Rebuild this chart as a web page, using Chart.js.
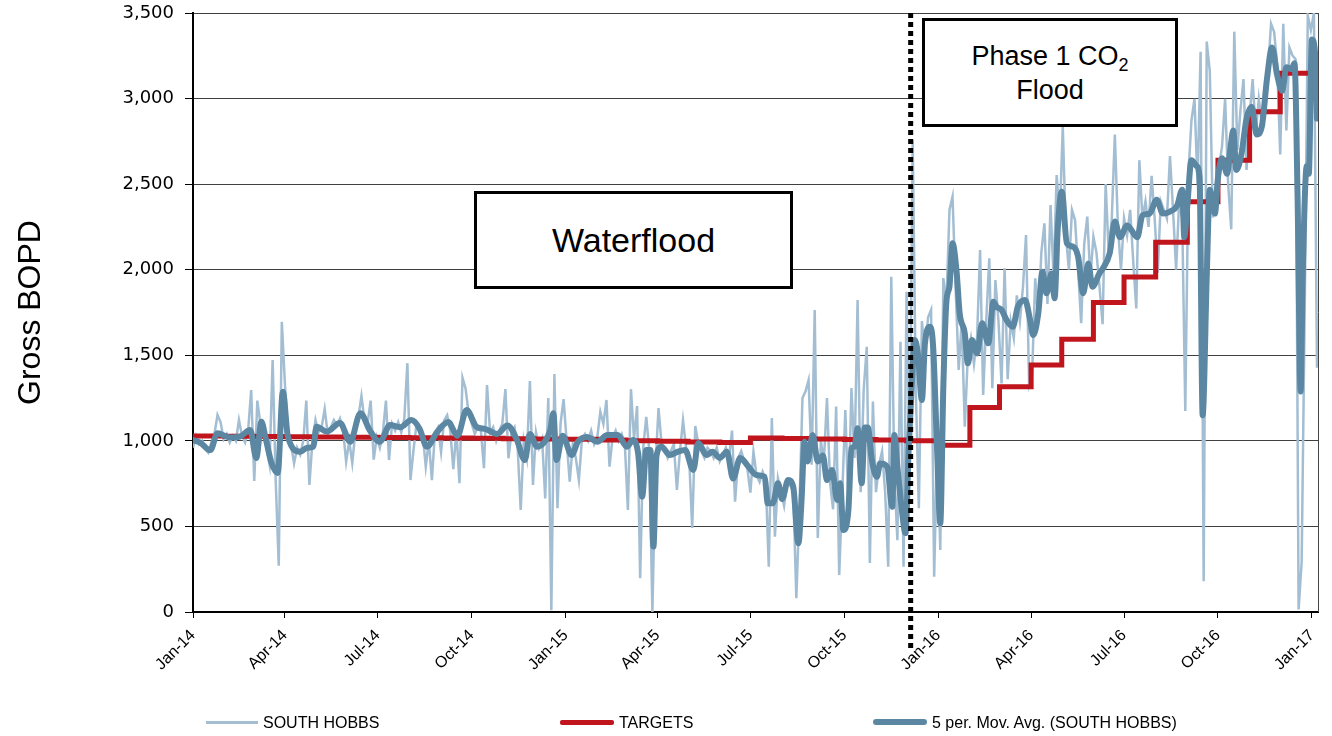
<!DOCTYPE html>
<html>
<head>
<meta charset="utf-8">
<script src="https://cdn.jsdelivr.net/npm/chart.js@4.4.1/dist/chart.umd.min.js"></script>
<style>
  html, body { margin: 0; padding: 0; background: #fff; }
  #wrap { position: relative; width: 1332px; height: 736px; overflow: hidden; background: #fff; }
  #c { position: absolute; left: 0; top: 0; }
  .box { position: absolute; background: #fff; border: 3px solid #000; box-sizing: border-box;
         display: flex; align-items: center; justify-content: center; text-align: center;
         font-family: "Liberation Sans", Arial, sans-serif; color: #000; }
  .box sub { font-size: 18px; vertical-align: -6px; line-height: 0; }
  .lg-line { position: absolute; height: 0; }
  .lg-text { position: absolute; font-family: "Liberation Sans Narrow", "Arial Narrow", "Liberation Sans", Arial, sans-serif;
             font-size: 16px; color: #000; line-height: 20px; white-space: nowrap; }
</style>
</head>
<body>
<div id="wrap">
  <canvas id="c" width="1332" height="736"></canvas>
  <div class="box" style="left:474px;top:191px;width:319px;height:98px;font-size:34px;"><div>Waterflood</div></div>
  <div class="box" style="left:922px;top:18px;width:256px;height:109px;font-size:27px;line-height:34px;"><div>Phase 1 CO<sub>2</sub><br>Flood</div></div>

  <div class="lg-line" style="left:206px;top:721px;width:52px;border-top:3px solid #a3bed2;"></div>
  <div class="lg-text" style="left:263px;top:713px;">SOUTH HOBBS</div>
  <div class="lg-line" style="left:560px;top:720px;width:54px;border-top:5px solid #c1151d;border-radius:2px;"></div>
  <div class="lg-text" style="left:619px;top:713px;">TARGETS</div>
  <div class="lg-line" style="left:873px;top:719px;width:54px;border-top:6px solid #5c87a3;border-radius:3px;"></div>
  <div class="lg-text" style="left:932px;top:713px;">5 per. Mov. Avg. (SOUTH HOBBS)</div>
</div>
<script>
// ---------- DATA (x values are days since 1 Jan 2014) ----------
const tickDays   = [0, 90, 181, 273, 365, 455, 546, 638, 730, 821, 912, 1004, 1096];
const tickLabels = ['Jan-14','Apr-14','Jul-14','Oct-14','Jan-15','Apr-15','Jul-15','Oct-15','Jan-16','Apr-16','Jul-16','Oct-16','Jan-17'];

const yTicksMax = 3500;
const phaseStartDay = 703;   // start of Phase 1 CO2 flood (dotted line)

// SOUTH HOBBS gross BOPD, one value every 3 days starting 1 Jan 2014
const rawStartDay = 0;
const rawStepDays = 3;
const rawValues = [
  960,1030,980,1000,950,930,990,1040,1151,1110,          // day 0
  1010,1040,990,1030,1000,1122,1030,990,1060,1297,       // day 30
  765,1235,1100,1060,960,860,1472,771,270,1696,          // day 60
  1338,1050,980,868,960,920,1000,1235,742,1000,          // day 90
  1122,1050,1080,1186,1040,1080,1122,1090,1130,1060,     // day 120
  878,1000,870,1050,1140,1262,1120,1100,1235,890,        // day 150
  1020,960,1050,1235,888,1100,1060,1110,1050,1130,       // day 180
  1454,771,947,1100,1080,1040,849,1000,771,1050,         // day 210
  1080,935,1120,1150,1060,835,1060,753,1369,1306,        // day 240
  1160,1100,1040,1080,1060,840,1326,1050,1080,1000,      // day 270
  1060,1100,1302,898,1050,1080,960,596,1000,900,         // day 300
  1350,742,1050,960,1010,664,1250,10,1390,607,           // day 330
  1100,1244,1000,761,980,900,771,1010,1040,1000,         // day 360
  1060,980,1020,1170,1100,1239,849,1020,1060,1000,       // day 390
  1040,980,596,1302,1010,1203,198,960,1140,940,          // day 420
  0,850,1192,980,960,900,940,980,713,940,                // day 450
  1120,960,900,491,1087,980,940,900,960,940,             // day 480
  900,960,880,920,960,900,1060,644,900,940,              // day 510
  880,840,697,937,800,760,820,770,265,1133,              // day 540
  440,780,700,620,760,740,700,80,600,1250,               // day 570
  1290,1356,860,1765,432,1000,880,1250,760,600,          // day 600
  1200,216,700,1180,620,1309,900,1823,700,1300,          // day 630
  1550,286,1230,700,860,940,700,265,1959,800,            // day 660
  420,1579,265,1871,900,2757,1300,607,1700,1500,         // day 690
  1720,1765,206,1000,362,1951,1800,2349,2427,1900,       // day 720
  1414,1700,1083,1500,1600,1450,1600,2115,1268,1700,     // day 750
  2067,1307,1940,1700,1336,2008,1360,1700,1600,1850,     // day 780
  1700,1900,2203,1330,1394,1950,1700,2100,2271,1800,     // day 810
  2378,1950,2553,2300,2836,2200,2000,2349,2290,2000,     // day 840
  1687,2150,2310,1950,2193,2100,1900,1682,2500,2100,     // day 870
  2300,2790,2250,2000,2300,2200,2350,2050,1774,2640,     // day 900
  2300,2400,2250,2548,2300,1982,2400,2350,2300,2664,     // day 930
  2350,2000,2400,2300,1174,2550,2870,2998,2500,3274,     // day 960
  180,3333,3160,2305,2500,2600,2721,2998,2500,2236,      // day 990
  3391,2700,2929,3114,2583,2900,3114,2800,2998,2850,     // day 1020
  3000,3160,3437,3390,3200,2674,3437,2813,3299,3252,     // day 1050
  3230,15,295,1780,3484,3400,3500,1427                   // day 1080
];

// 5 per. Mov. Avg. (SOUTH HOBBS): [day, BOPD]
const maPoints = [
  [0,1005],[7,990],[17,946],[24,1045],[36,1020],[46,1025],[56,1063],[62,900],[67,1112],[71,1020],
  [77,870],[83,812],[88,1287],[93,1024],[105,937],[112,960],[118,966],[121,1083],[131,1054],[144,1104],
  [154,995],[164,1162],[173,1063],[183,995],[193,1092],[203,1080],[214,1122],[222,1070],[229,966],[239,1050],
  [250,1110],[259,1030],[268,1180],[278,1080],[286,1070],[298,1040],[308,1090],[317,1010],[325,888],[330,1040],
  [337,966],[343,985],[350,1063],[353,1162],[356,888],[362,1030],[371,917],[377,995],[386,1023],[396,995],
  [406,1034],[416,1034],[425,966],[431,1005],[436,928],[440,674],[444,947],[448,947],[451,382],[454,910],
  [459,966],[467,917],[475,937],[482,947],[490,830],[495,987],[503,917],[509,937],[516,900],[523,937],
  [529,780],[536,900],[544,850],[552,800],[560,790],[563,635],[568,635],[573,752],[577,660],[583,771],
  [588,730],[593,401],[596,640],[599,995],[602,880],[607,1034],[612,880],[617,915],[621,771],[626,830],
  [631,654],[634,752],[637,479],[642,596],[645,956],[648,966],[651,1073],[655,752],[658,1078],[661,1078],
  [665,887],[670,790],[673,868],[680,849],[685,615],[687,1034],[690,849],[694,615],[698,461],[701,946],
  [704,1316],[707,1589],[710,1511],[714,1239],[717,1570],[722,1667],[725,1550],[729,927],[732,518],[735,1316],
  [738,1813],[741,1901],[744,2154],[748,1988],[751,1745],[756,1628],[759,1453],[763,1589],[768,1511],[773,1687],
  [779,1570],[784,1813],[787,1784],[792,1765],[797,1706],[803,1667],[808,1784],[815,1823],[820,1706],[823,1618],
  [828,1745],[832,1988],[836,1862],[841,1978],[844,1833],[847,2232],[851,2456],[856,2154],[862,2135],[867,2076],
  [872,1862],[877,2037],[881,1901],[888,1980],[891,2005],[898,2097],[903,2282],[908,2190],[915,2259],[925,2190],
  [930,2317],[937,2328],[944,2409],[950,2328],[957,2340],[964,2375],[969,2467],[971,2190],[974,2375],[978,2640],
  [983,2606],[986,2536],[989,1150],[993,1958],[996,2467],[1001,2328],[1004,2536],[1008,2652],[1013,2560],[1016,2698],
  [1019,2813],[1022,2583],[1027,2676],[1032,2883],[1037,2952],[1042,2790],[1047,2837],[1052,3114],[1057,3299],[1062,3137],
  [1067,3045],[1071,3183],[1076,3172],[1079,3206],[1082,2421],[1085,1288],[1087,1958],[1091,2606],[1093,2560],[1096,3345],
  [1099,3275],[1101,2883]
];

// TARGETS: monthly target, starting day of each month
const targetDays = [0,31,59,90,120,151,181,212,243,273,304,334,
                    365,396,424,455,485,516,546,577,608,638,669,699,
                    730,761,790,821,851,882,912,943,974,1004,1035,1065,1102];
const targetValues = [1028,1027,1025,1024,1022,1021,1019,1018,1016,1015,1013,1011,
                      1009,1005,1001,998,994,990,1017,1014,1011,1008,1005,1001,
                      975,1195,1316,1443,1593,1808,1958,2161,2397,2640,2923,3148,3148];

// ---------- CHART ----------
const tickFont = { family: '"Liberation Sans", Arial, sans-serif', size: 16 };

const overlayPlugin = {
  id: 'overlay',
  afterDatasetsDraw(chart) {
    const { ctx, chartArea: a, scales: { x } } = chart;
    ctx.save();
    // right frame line
    ctx.strokeStyle = '#444';
    ctx.lineWidth = 1;
    ctx.beginPath();
    ctx.moveTo(Math.round(a.right) + 0.5, a.top);
    ctx.lineTo(Math.round(a.right) + 0.5, a.bottom);
    ctx.stroke();
    // dotted phase boundary
    const px = x.getPixelForValue(phaseStartDay);
    ctx.strokeStyle = '#000';
    ctx.lineWidth = 5;
    ctx.setLineDash([5, 4]);
    ctx.beginPath();
    ctx.moveTo(px, a.top);
    ctx.lineTo(px, a.bottom + 38);
    ctx.stroke();
    ctx.restore();
  }
};

new Chart(document.getElementById('c'), {
  type: 'line',
  data: {
    datasets: [
      {
        label: 'SOUTH HOBBS',
        data: rawValues.map((v, i) => ({ x: rawStartDay + i * rawStepDays, y: v })),
        borderColor: '#a3bed2',
        borderWidth: 2.5,
        pointRadius: 0,
        tension: 0,
        order: 2
      },
      {
        label: 'TARGETS',
        data: targetDays.map((d, i) => ({ x: d, y: targetValues[i] })),
        borderColor: '#c1151d',
        borderWidth: 5,
        pointRadius: 0,
        stepped: 'before',
        order: 1
      },
      {
        label: '5 per. Mov. Avg. (SOUTH HOBBS)',
        data: maPoints.map(p => ({ x: p[0], y: p[1] })),
        borderColor: '#5c87a3',
        borderWidth: 6,
        pointRadius: 0,
        cubicInterpolationMode: 'monotone',
        borderJoinStyle: 'round',
        borderCapStyle: 'round',
        order: 0
      }
    ]
  },
  options: {
    responsive: false,
    animation: false,
    devicePixelRatio: 1,
    layout: { padding: { left: 0, right: 14, top: 13, bottom: 0 } },
    plugins: { legend: { display: false }, tooltip: { enabled: false } },
    scales: {
      x: {
        type: 'linear',
        min: 0,
        max: 1102,
        afterBuildTicks: s => { s.ticks = tickDays.map(v => ({ value: v })); },
        afterFit: s => { s.height = 124; s.paddingLeft = 0; s.paddingRight = 0; },
        ticks: {
          autoSkip: false,
          maxRotation: 45,
          minRotation: 45,
          padding: 8,
          color: '#000',
          font: tickFont,
          callback: (v, i) => tickLabels[i]
        },
        grid: { drawOnChartArea: false, drawTicks: true, tickLength: 6, color: '#000', lineWidth: 1 },
        border: { color: '#000', width: 2 }
      },
      y: {
        min: 0,
        max: yTicksMax,
        afterFit: s => { s.width = 193; s.paddingTop = 0; s.paddingBottom = 0; },
        ticks: {
          stepSize: 500,
          padding: 11,
          color: '#000',
          font: { family: '"DejaVu Sans", Verdana, sans-serif', size: 18 },
          callback: v => v.toLocaleString('en-US')
        },
        grid: { color: '#404040', lineWidth: 1, tickLength: 8, tickColor: '#000' },
        border: { color: '#000', width: 2 },
        title: {
          display: true,
          text: 'Gross BOPD',
          color: '#000',
          font: { family: '"Liberation Sans", Arial, sans-serif', size: 32 },
          padding: { top: 12, bottom: 0 }
        }
      }
    }
  },
  plugins: [overlayPlugin]
});
</script>
</body>
</html>
